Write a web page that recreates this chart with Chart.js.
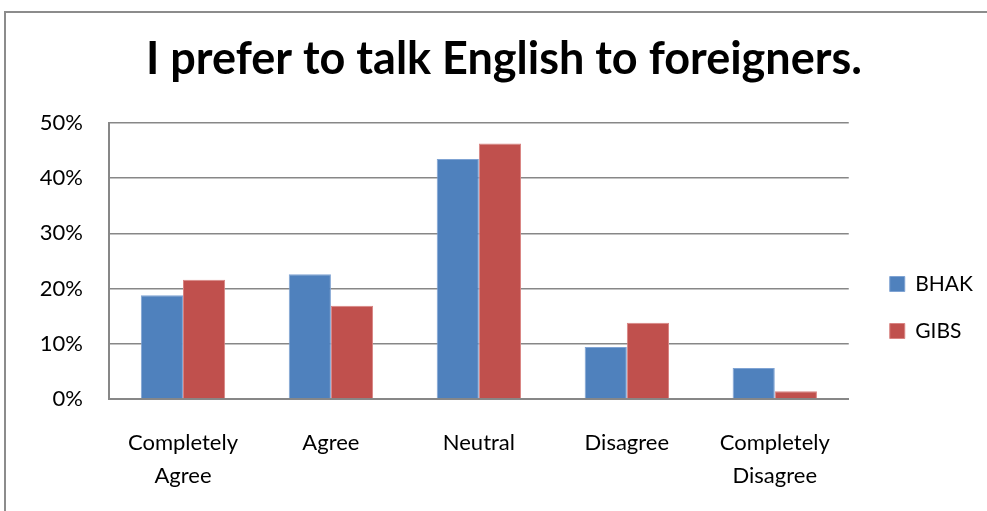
<!DOCTYPE html>
<html>
<head>
<meta charset="utf-8">
<title>I prefer to talk English to foreigners.</title>
<script src="https://cdn.jsdelivr.net/npm/chart.js@4/dist/chart.umd.min.js"></script>
<style>
    html, body {
        margin: 0;
        padding: 0;
        background: #fff;
        overflow: hidden;
    }
    .frame {
        position: absolute;
        left: 4px;
        top: 11px;
        width: 1100px;
        height: 600px;
        border-left: 2px solid #8c8c8c;
        border-top: 2px solid #8c8c8c;
    }
    #chart {
        position: absolute;
        left: 0;
        top: 0;
    }
</style>
</head>
<body>
<div class="frame"></div>
<canvas id="chart" width="1008" height="511"></canvas>
<script>
// Survey answers, share of respondents per school
const categories = [['Completely', 'Agree'], 'Agree', 'Neutral', 'Disagree', ['Completely', 'Disagree']];
const bhak = [0.188, 0.226, 0.435, 0.094, 0.056];
const gibs = [0.216, 0.169, 0.463, 0.138, 0.014];
const yTicks = [0, 0.1, 0.2, 0.3, 0.4, 0.5];

const gridGray = '#878787';
const fontFamily = 'Lato, "Open Sans", sans-serif';

// Move the legend right/down and the title right, after the layout is done
const boxNudge = {
    id: 'boxNudge',
    afterLayout: function(chart) {
        const lg = chart.legend;
        if (lg) {
            lg.left += 15;
            lg.right += 15;
            lg.top += 52;
            lg.bottom += 52;
        }
        const tb = chart.titleBlock;
        if (tb) {
            tb.left += 20;
            tb.right += 20;
        }
    }
};

const ctx = document.getElementById('chart');
new Chart(ctx, {
    type: 'bar',
    data: {
        labels: categories,
        datasets: [
            {
                label: 'BHAK',
                data: bhak,
                backgroundColor: '#4F81BD',
                borderColor: '#7fa3d3',
                borderWidth: 1,
                borderSkipped: 'bottom'
            },
            {
                label: 'GIBS',
                data: gibs,
                backgroundColor: '#C0504D',
                borderColor: '#d98482',
                borderWidth: 1,
                borderSkipped: 'bottom'
            }
        ]
    },
    options: {
        responsive: false,
        animation: false,
        layout: {
            padding: { left: 0, right: 40, top: 0, bottom: 0 }
        },
        datasets: {
            bar: {
                categoryPercentage: 0.57,
                barPercentage: 1.0
            }
        },
        plugins: {
            title: {
                display: true,
                text: 'I prefer to talk English to foreigners.',
                color: '#000',
                font: { family: fontFamily, size: 45, weight: 'bold' },
                padding: { top: 32, bottom: 37 }
            },
            legend: {
                position: 'right',
                labels: {
                    color: '#000',
                    font: { family: fontFamily, size: 21 },
                    boxWidth: 15,
                    boxHeight: 15,
                    padding: 26
                }
            },
            tooltip: { enabled: false }
        },
        scales: {
            x: {
                grid: { display: false, drawTicks: false },
                border: { display: true, color: gridGray, width: 2 },
                ticks: {
                    color: '#000',
                    font: { family: fontFamily, size: 22, lineHeight: 1.5 },
                    padding: 27,
                    maxRotation: 0,
                    autoSkip: false
                },
                afterFit: function(scale) {
                    scale.height = 112;
                }
            },
            y: {
                min: 0,
                max: 0.5,
                grid: { color: gridGray, lineWidth: 1.5, drawTicks: false },
                border: { display: true, color: gridGray, width: 2 },
                afterBuildTicks: function(scale) {
                    scale.ticks = yTicks.map(function(v) { return { value: v }; });
                },
                ticks: {
                    color: '#000',
                    font: { family: fontFamily, size: 22 },
                    padding: 26,
                    callback: function(value) {
                        return Math.round(value * 100) + '%';
                    }
                },
                afterFit: function(scale) {
                    scale.width = 109;
                }
            }
        }
    },
    plugins: [boxNudge]
});
</script>
</body>
</html>
